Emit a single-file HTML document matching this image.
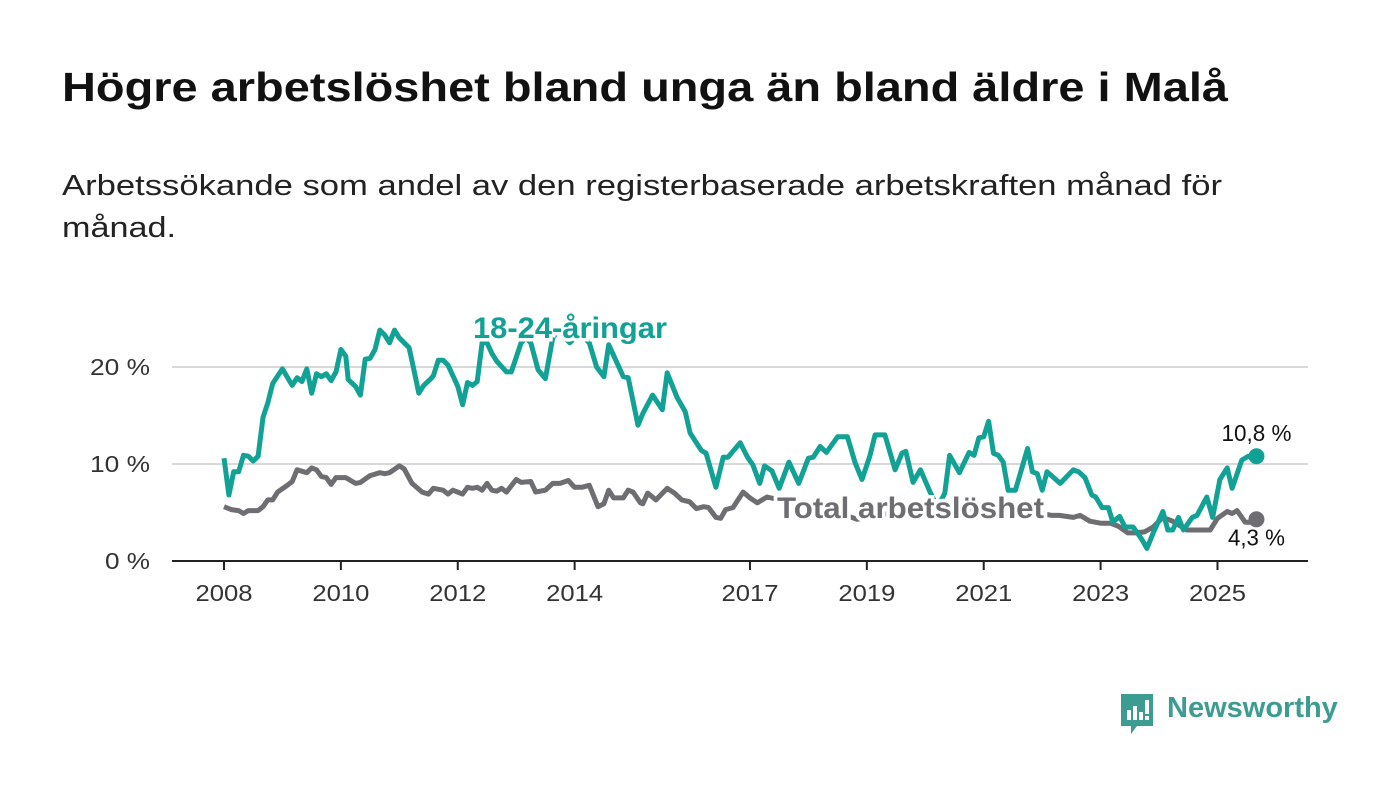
<!DOCTYPE html>
<html><head><meta charset="utf-8">
<style>
body{margin:0;width:1400px;height:794px;background:#fff;font-family:"Liberation Sans",sans-serif;overflow:hidden;position:relative}
.fit{position:absolute;left:62px;margin:0;white-space:nowrap;transform-origin:0 0;display:inline-block}
h1.fit{top:64px;font-size:41px;font-weight:bold;color:#111}
.sub{font-size:29px;color:#222}
svg text{font-family:"Liberation Sans",sans-serif}
</style></head><body>
<h1 class="fit" data-w="1166">Högre arbetslöshet bland unga än bland äldre i Malå</h1>
<div class="fit sub" style="top:170px" data-w="1160">Arbetssökande som andel av den registerbaserade arbetskraften månad för</div>
<div class="fit sub" style="top:212px" data-w="114">månad.</div>
<svg id="chart" width="1400" height="794" style="position:absolute;left:0;top:0"></svg>
<div style="position:absolute;left:1119px;top:690px;height:44px">
<svg width="36" height="44" style="position:absolute;left:0;top:2px"><path d="M2 2h32v32H18l-6 8v-8H2z" fill="#3d9c92"/><rect x="8" y="18" width="4" height="10" fill="#fff"/><rect x="14" y="14" width="4" height="14" fill="#fff"/><rect x="20" y="20" width="4" height="8" fill="#fff"/><rect x="26" y="8" width="4" height="14" fill="#fff"/><rect x="26" y="24" width="4" height="4" fill="#fff"/></svg>
<span style="position:absolute;left:48px;top:2px;font-size:29px;font-weight:bold;color:#3d9c92;white-space:nowrap">Newsworthy</span></div>
<script>
document.querySelectorAll('.fit').forEach(el=>{const w=el.getBoundingClientRect().width;el.style.transform='scaleX('+(parseFloat(el.dataset.w)/w)+')';});
const youngMonths=[0,1,2,3,4,5,6,7,8,9,10,12,14,15,16,17,18,19,20,21,22,23,24,25,25.5,27,28,29,30,31,32,33,34,35,36,37,38,39,40,41,42.5,43,44,45,46,48,49,50,51,52,53,54,55,56,58,59,61,62,63,64.5,66,67.5,69,70,71,72,73,75,76.5,78,79,80,82,83,85,86,88,90,91,93,94.7,95.7,98,99,101,102.5,103.5,106,107.5,108.6,110,111,112.5,114,116,118,120,121,122.4,123.7,126,128,129.6,131,132.6,133.7,135.7,137.8,139.2,140,141.5,143,145,146.5,148,149,151,153,154,155,156,157,158,159,160,161,162.5,165,166,167,168,169,171.7,174.4,175.5,176.8,178.2,179,180.3,181.6,182.5,183.9,185,186.7,188.5,189.5,190.8,192.8,193.8,194.8,196,197,198.8,199.8,201.8,203,204.5,206,207,209,210.3,212];
const youngValues=[10.6,6.8,9.2,9.2,10.9,10.8,10.3,10.8,14.8,16.3,18.3,19.8,18.1,18.9,18.5,19.8,17.3,19.3,19.0,19.3,18.6,19.5,21.8,21.1,18.7,18.0,17.1,20.8,20.9,21.8,23.8,23.3,22.5,23.8,23.0,22.5,22.0,19.7,17.3,18.1,18.8,19.1,20.7,20.7,20.2,18.0,16.1,18.4,18.1,18.5,22.5,22.5,21.4,20.6,19.5,19.5,22.5,23.0,22.5,19.7,18.8,23.0,24.0,23.0,22.5,23.0,23.5,22.5,20.0,19.0,22.3,21.2,19.0,18.9,14.0,15.2,17.1,15.6,19.4,16.9,15.4,13.2,11.4,11.1,7.6,10.7,10.7,12.2,10.7,9.9,8.0,9.8,9.3,7.5,10.2,8.0,10.6,10.7,11.8,11.2,12.8,12.8,10.1,8.4,10.8,13.0,13.0,9.4,11.1,11.3,8.1,9.4,7.1,5.5,7.0,10.9,9.1,11.2,10.9,12.7,12.8,14.4,11.1,10.9,10.2,7.3,7.3,11.6,9.2,9.0,7.3,9.2,8.0,9.4,9.2,8.6,6.8,6.6,5.5,5.5,4.0,4.6,3.5,3.5,2.2,1.3,2.9,5.1,3.2,3.2,4.5,3.2,4.5,4.7,6.6,4.5,8.4,9.6,7.5,10.4,10.8,10.8];
const totalMonths=[0,1.5,3,4,5,7,8,9,10,11,13,14,15,17,18,19,20,21,22,23,25,27,28,30,32,33,34,36,37,38.6,40.7,42,43,45,46,47,49,50,51,52,53,54,55,56,57,58,60,61,63,64,66,67.5,69,70.7,72,73.5,75,76.8,78,79,80,82,83,84,85.5,86,87,88.7,91,92.5,94,95.6,97,98.5,99.5,101,102,103,104.5,106.6,108,109.5,111.5,115,120,125,130,135,140,150,160,168,170,171.5,174.4,175.8,177.8,180,182,183.6,185.6,187.3,189,190.8,192.8,194.8,197.7,202.5,204,206,207,208,209.7,211,212];
const totalValues=[5.6,5.3,5.2,4.9,5.2,5.2,5.6,6.3,6.3,7.1,7.8,8.2,9.4,9.1,9.6,9.4,8.7,8.6,7.9,8.6,8.6,8.0,8.1,8.8,9.1,9.0,9.1,9.8,9.5,8.0,7.1,6.9,7.5,7.3,6.9,7.3,6.9,7.6,7.5,7.6,7.3,8.0,7.3,7.2,7.5,7.1,8.4,8.1,8.2,7.1,7.3,8.0,8.0,8.3,7.6,7.6,7.8,5.6,5.9,7.3,6.5,6.5,7.3,7.1,6.0,5.9,7.0,6.3,7.5,7.0,6.3,6.1,5.4,5.6,5.5,4.5,4.4,5.3,5.5,7.1,6.5,6.0,6.6,6.2,5.5,5.2,4.3,4.8,5.0,5.2,5.0,4.9,4.7,4.7,4.5,4.7,4.1,3.9,3.9,3.6,2.9,2.9,3.0,3.5,4.5,4.1,3.2,3.2,4.4,5.1,4.9,5.2,4.0,4.0,4.3];
const yTicks=[0,10,20];
const yTickLabels=["0 %","10 %","20 %"];
const xTickYears=[2008,2010,2012,2014,2017,2019,2021,2023,2025];
const endLabels=["10,8 %","4,3 %"];

const svg=document.getElementById('chart');
const NS='http://www.w3.org/2000/svg';
const X0=224,PXM=4.87,Y0=561,PXV=9.7;
const xm=m=>X0+m*PXM;
const xy=y=>X0+(y-2008)*12*PXM;
const yv=v=>Y0-v*PXV;
function mk(t,a){const e=document.createElementNS(NS,t);for(const k in a)e.setAttribute(k,a[k]);svg.appendChild(e);return e;}

yTicks.forEach((v,i)=>{
  if(v>0){const g=mk('line',{x1:172,x2:1308,y1:yv(v),y2:yv(v),stroke:'#d9d9d9','stroke-width':2});
  
  }
  const lbl=yTickLabels[i];
  const t=mk('text',{x:150,y:yv(v)+8,'text-anchor':'end','font-size':23,fill:'#333',textLength:lbl.length*15,lengthAdjust:'spacingAndGlyphs'});
  t.textContent=lbl;
  
  
});
const ax=mk('line',{x1:172,x2:1308,y1:Y0,y2:Y0,stroke:'#222','stroke-width':2});


xTickYears.forEach(y=>{
  const tk=mk('line',{x1:xy(y),x2:xy(y),y1:Y0,y2:Y0+9,stroke:'#222','stroke-width':2});
  
  
  const t=mk('text',{x:xy(y),y:601,'text-anchor':'middle','font-size':23,fill:'#333',textLength:57,lengthAdjust:'spacingAndGlyphs'});
  t.textContent=y;
  
  
});
function line(ms,vs,col,name){
  const d=ms.map((m,i)=>(i?'L':'M')+xm(m).toFixed(1)+' '+yv(vs[i]).toFixed(1)).join('');
  const p=mk('path',{d:d,fill:'none',stroke:col,'stroke-width':5,'stroke-linejoin':'round'});
  
  
  const last=ms.length-1;
  const c=mk('circle',{cx:xm(ms[last]),cy:yv(vs[last]),r:8,fill:col});
  
  
}
line(totalMonths,totalValues,'#6e6d72','total-line');
line(youngMonths,youngValues,'#12a195','youth-line');
const l1=mk('text',{x:473,y:338,'font-size':30,'font-weight':'bold',fill:'#12a195',stroke:'#fff','stroke-width':7,'paint-order':'stroke',textLength:194,lengthAdjust:'spacingAndGlyphs'});
l1.textContent='18-24-åringar';


const l2=mk('text',{x:777,y:518,'font-size':30,'font-weight':'bold',fill:'#6e6d72',stroke:'#fff','stroke-width':7,'paint-order':'stroke',textLength:267,lengthAdjust:'spacingAndGlyphs'});
l2.textContent='Total arbetslöshet';


const lm=youngMonths[youngMonths.length-1];
const e1=mk('text',{x:xm(lm),y:yv(youngValues[youngValues.length-1])-15,'text-anchor':'middle','font-size':23,fill:'#111',textLength:70,lengthAdjust:'spacingAndGlyphs'});
e1.textContent=endLabels[0];


const e2=mk('text',{x:xm(lm),y:yv(totalValues[totalValues.length-1])+26,'text-anchor':'middle','font-size':23,fill:'#111',textLength:57,lengthAdjust:'spacingAndGlyphs'});
e2.textContent=endLabels[1];


</script>
</body></html>
